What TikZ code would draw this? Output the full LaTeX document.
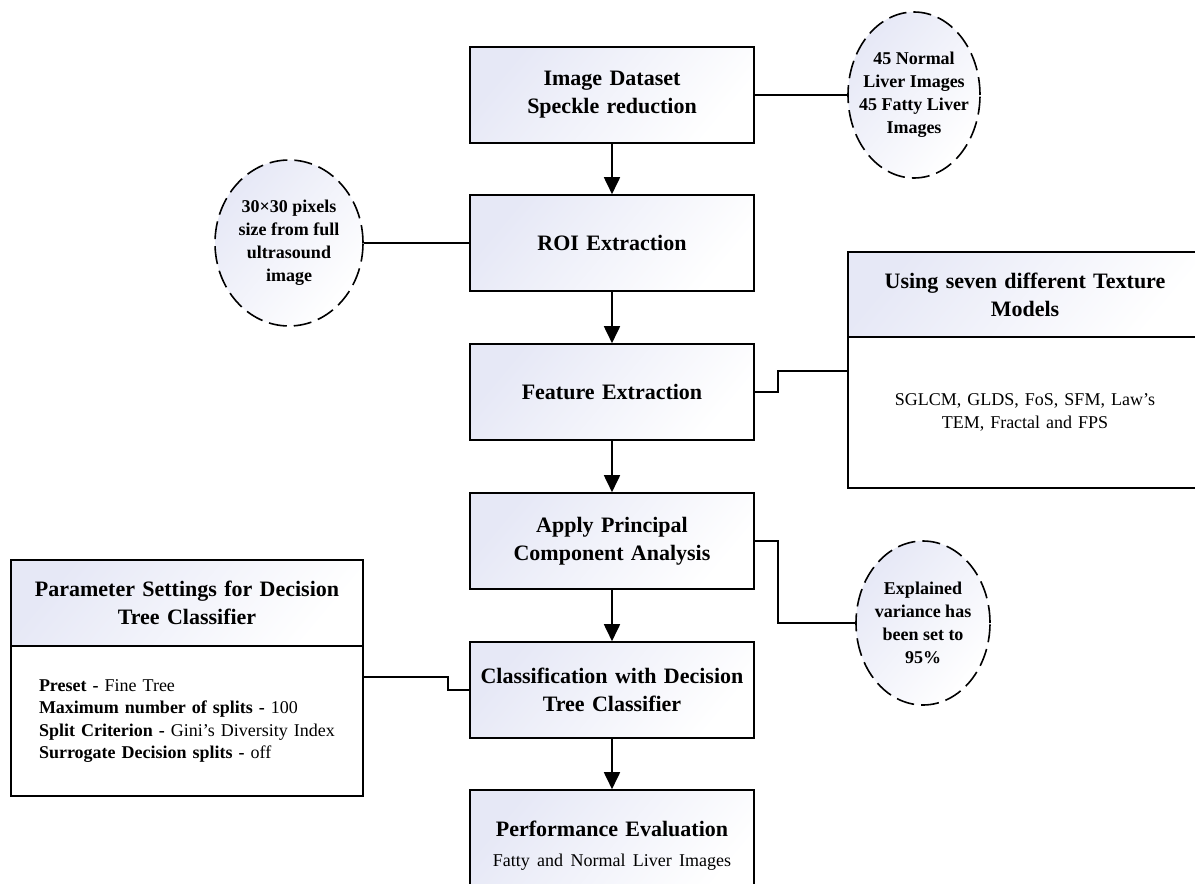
\documentclass[tikz,border=0pt]{standalone}
\usepackage{fontspec}
\setmainfont{Liberation Serif}
\usetikzlibrary{shapes.geometric,arrows.meta,calc}
\definecolor{lav}{RGB}{230,232,246}
\tikzset{
  shade/.style={top color=lav, bottom color=white, shading angle=50},
  mainbox/.style={draw, line width=1.6pt, shade, minimum width=284pt, minimum height=96pt,
     text width=274pt, align=center, inner sep=0pt,
     font=\fontsize{22}{28}\selectfont\bfseries},
  note/.style={draw, dash pattern=on 18pt off 7pt, line width=1.6pt, ellipse, shade,
     inner sep=-14pt, align=center, font=\fontsize{18}{23}\selectfont\bfseries},
  hdr/.style={draw, line width=1.6pt, shade, inner sep=0pt, align=center,
     font=\fontsize{22}{28}\selectfont\bfseries},
  body/.style={draw, line width=1.6pt, fill=white, inner sep=0pt,
     font=\fontsize{18}{22.5}\selectfont},
  link/.style={line width=1.8pt},
  flow/.style={line width=1.8pt, -{Triangle[width=16pt,length=17pt]}},
}
\begin{document}
\begin{tikzpicture}[x=1pt,y=-1pt]
\useasboundingbox (0,0) rectangle (1195,884);
\clip (0,0) rectangle (1195,884);

% main column
\node[mainbox] (b1) at (612,95) {Image Dataset\\Speckle reduction};
\node[mainbox] (b2) at (612,243) {ROI Extraction};
\node[mainbox] (b3) at (612,392) {Feature Extraction};
\node[mainbox] (b4) at (612,541) {Apply Principal\\Component Analysis};
\node[mainbox] (b5) at (612,690) {Classification with Decision\\Tree Classifier};
\node[mainbox, minimum height=112pt] (b6) at (612,846) {Performance Evaluation\\[2pt]{\fontsize{18}{22}\selectfont\mdseries Fatty and Normal Liver Images}};

% notes
\node[note, minimum width=132pt, minimum height=166pt] (c1) at (914,95)
  {45 Normal\\Liver Images\\45 Fatty Liver\\Images};
\node[note, minimum width=148pt, minimum height=166pt] (c2) at (289,243)
  {30×30 pixels\\size from full\\ultrasound\\image};
\node[note, minimum width=134pt, minimum height=164pt] (c3) at (923,623)
  {Explained\\variance has\\been set to\\95\%};

% texture model box
\node[hdr, minimum width=354pt, minimum height=85pt, text width=340pt] (th) at (1025,294.5)
  {Using seven different Texture\\Models};
\node[body, minimum width=354pt, minimum height=151pt, text width=300pt, align=center] (tb) at (1025,412.5)
  {SGLCM, GLDS, FoS, SFM, Law’s\\TEM, Fractal and FPS};

% parameter box
\node[hdr, minimum width=352pt, minimum height=86pt, text width=340pt] (ph) at (187,603)
  {Parameter Settings for Decision\\Tree Classifier};
\node[body, minimum width=352pt, minimum height=150pt, text width=296pt, align=left] (pb) at (187,721)
  {\textbf{Preset -} Fine Tree\\
   \textbf{Maximum number of splits -} 100\\
   \textbf{Split Criterion -} Gini’s Diversity Index\\
   \textbf{Surrogate Decision splits -} off};

% flow arrows
\draw[flow] (b1.south) -- (b2.north);
\draw[flow] (b2.south) -- (b3.north);
\draw[flow] (b3.south) -- (b4.north);
\draw[flow] (b4.south) -- (b5.north);
\draw[flow] (b5.south) -- (b6.north);

% side links
\draw[link] (b1.east) -- (c1.west);
\draw[link] (c2.east) -- (b2.west);
\coordinate (tin) at ($(tb.north west)+(0,35)$);
\draw[link] (b3.east) -- ++(23,0) |- (tin);
\draw[link] (b4.east) -- ++(23,0) |- (c3.west);
\coordinate (pout) at ($(pb.north east)+(0,32)$);
\draw[link] (pout) -- ++(84,0) |- (b5.west);
\end{tikzpicture}
\end{document}
